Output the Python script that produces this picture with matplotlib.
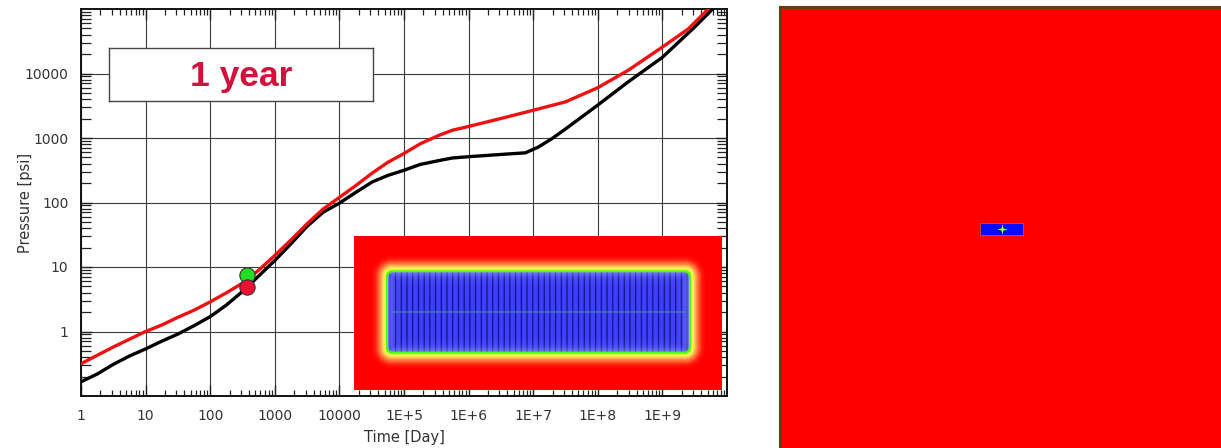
import numpy as np
import matplotlib
matplotlib.use("Agg")
import matplotlib.pyplot as plt
from matplotlib.ticker import LogLocator, FixedLocator, FixedFormatter, NullFormatter
from matplotlib.patches import Rectangle

# ---------------- data ----------------
red_time = [1, 1.78, 3.16, 5.62, 10, 17.8, 31.6, 56.2, 100, 178, 316, 562, 1000, 1780,
            3160, 5620, 1e4, 1.78e4, 3.16e4, 5.62e4, 1e5, 1.78e5, 3.47e5, 5.62e5, 1e6,
            3.72e6, 1e7, 3.16e7, 1e8, 2.95e8, 1e9, 2.51e9, 5.13e9]
red_pressure = [0.316, 0.427, 0.575, 0.759, 1.0, 1.26, 1.66, 2.14, 2.88, 3.98, 5.62,
                8.91, 15.1, 26.3, 46.8, 79.4, 120, 182, 282, 420, 575, 813, 1100, 1320,
                1510, 2090, 2690, 3630, 6030, 11200, 25700, 49000, 100000]

black_time = [1, 1.78, 3.16, 5.62, 10, 17.8, 31.6, 56.2, 100, 178, 316, 562, 1000,
              1780, 3160, 5620, 1e4, 1.82e4, 3.24e4, 5.62e4, 1e5, 1.78e5, 3.47e5, 5.62e5,
              1e6, 3.72e6, 7.59e6, 1.2e7, 1.95e7, 3.16e7, 1e8, 2.95e8, 1e9, 3.16e9, 6.0e9]
black_pressure = [0.166, 0.219, 0.309, 0.417, 0.537, 0.708, 0.912, 1.23, 1.70, 2.57,
                  4.17, 7.24, 12.6, 22.9, 42.7, 70.8, 97.7, 145, 209, 263, 316, 389, 447,
                  490, 513, 562, 589, 724, 977, 1380, 3240, 7410, 17800, 52500, 100000]

marker_time = [365, 365]
marker_pressure = [7.4, 4.9]
marker_colors = ["#22dd22", "#ee1133"]

x_tick_values = [1, 10, 100, 1000, 1e4, 1e5, 1e6, 1e7, 1e8, 1e9]
x_tick_labels = ["1", "10", "100", "1000", "10000", "1E+5", "1E+6", "1E+7", "1E+8", "1E+9"]
y_tick_values = [1, 10, 100, 1000, 10000]
y_tick_labels = ["1", "10", "100", "1000", "10000"]

title_text = "1 year"

# ---------------- figure ----------------
W, H = 1221, 448
fig = plt.figure(figsize=(W / 100, H / 100), dpi=100)
fig.patch.set_facecolor("white")

def fpos(x0, y0, x1, y1):
    return [x0 / W, 1 - y1 / H, (x1 - x0) / W, (y1 - y0) / H]

ax = fig.add_axes(fpos(81, 9, 727, 396))
ax.set_xscale("log")
ax.set_yscale("log")
ax.set_xlim(1, 1e10)
ax.set_ylim(0.1, 1e5)

ax.xaxis.set_major_locator(FixedLocator(x_tick_values))
ax.xaxis.set_major_formatter(FixedFormatter(x_tick_labels))
ax.yaxis.set_major_locator(FixedLocator(y_tick_values))
ax.yaxis.set_major_formatter(FixedFormatter(y_tick_labels))
ax.xaxis.set_minor_locator(LogLocator(base=10, subs=np.arange(2, 10), numticks=200))
ax.yaxis.set_minor_locator(LogLocator(base=10, subs=np.arange(2, 10), numticks=200))
ax.xaxis.set_minor_formatter(NullFormatter())
ax.yaxis.set_minor_formatter(NullFormatter())

ax.grid(True, which="major", color="#3a3a3a", linewidth=0.8)
ax.tick_params(which="both", direction="in", top=True, right=True, colors="#222222",
               labelcolor="#333333", labelsize=10)
ax.tick_params(axis="x", which="major", length=8, width=1, pad=9)
ax.tick_params(axis="x", which="minor", length=4.5, width=0.9)
ax.tick_params(axis="y", which="major", length=8, width=1, pad=9)
ax.tick_params(axis="y", which="minor", length=7, width=0.9)
for s in ax.spines.values():
    s.set_linewidth(1.4)
    s.set_color("#111111")

ax.plot(red_time, red_pressure, color="#ee1111", lw=2.4, zorder=4,
        solid_capstyle="round", solid_joinstyle="round")
ax.plot(black_time, black_pressure, color="black", lw=2.4, zorder=3,
        solid_capstyle="round", solid_joinstyle="round")
for t, p, c in zip(marker_time, marker_pressure, marker_colors):
    ax.plot([t], [p], "o", ms=11, mfc=c, mec="#333333", mew=0.8, zorder=6)

ax.set_xlabel("Time [Day]", fontsize=10.5, color="#333333")
ax.xaxis.set_label_coords(0.5, -0.088)
ax.xaxis.label.set_va("top")
ax.set_ylabel("Pressure [psi]", fontsize=10.5, color="#333333")
ax.yaxis.set_label_coords(-0.074, 0.5)

# title box
box_ax = fig.add_axes(fpos(109, 48, 373, 101))
box_ax.set_xticks([]); box_ax.set_yticks([])
for s in box_ax.spines.values():
    s.set_linewidth(1.0); s.set_color("#444444")
box_ax.text(0.5, 0.46, title_text, ha="center", va="center", fontsize=25.5,
            fontweight="bold", color="#d3103c", family="Liberation Sans",
            transform=box_ax.transAxes)

# ---------------- inset image ----------------
iw, ih = 368, 154
inner_x0, inner_x1, inner_y0, inner_y1 = 33, 336, 36, 117
corner_r = 5.0
yy, xx = np.mgrid[0:ih, 0:iw] + 0.5
cx = (inner_x0 + inner_x1) / 2; cy = (inner_y0 + inner_y1) / 2
hx = (inner_x1 - inner_x0) / 2 - corner_r; hy = (inner_y1 - inner_y0) / 2 - corner_r
qx = np.abs(xx - cx) - hx; qy = np.abs(yy - cy) - hy
outside = np.hypot(np.maximum(qx, 0), np.maximum(qy, 0))
inside_part = np.minimum(np.maximum(qx, qy), 0)
sd = outside + inside_part - corner_r  # signed distance (positive outside)

img = np.zeros((ih, iw, 3))
stops_t = np.array([0.0, 0.1, 0.22, 0.45, 0.75, 1.0])
stops_c = np.array([[0.3, 1.0, 0.0], [0.9, 1.0, 0.15], [1.0, 0.9, 0.4],
                    [1.0, 0.5, 0.25], [1.0, 0.1, 0.05], [1.0, 0.0, 0.0]])
t = np.clip(sd / 16.0, 0, 1)
for k in range(3):
    img[..., k] = np.interp(t, stops_t, stops_c[:, k])
n_stripes = 53
period = (inner_x1 - inner_x0) / n_stripes
phase = ((xx - inner_x0) / period) % 1.0
stripe = np.exp(-((phase - 0.5) / 0.14) ** 2)
din = -sd
edge_light = np.exp(-din / 4.0)
blue = np.stack([0.25 + 0.0 * xx, 0.25 + 0.0 * xx, 1.0 + 0.0 * xx], axis=-1)
dark = np.array([0.06, 0.06, 0.5])
inside_col = blue * (1 - stripe[..., None] * 0.9) + dark * stripe[..., None] * 0.9
light = np.array([0.75, 0.8, 1.0])
inside_col = inside_col * (1 - 0.6 * edge_light[..., None]) + light * 0.6 * edge_light[..., None]
mask_in = sd < 0
img[mask_in] = inside_col[mask_in]
rim = (sd >= -1.2) & (sd < 1.0)
img[rim] = [0.3, 1.0, 0.1]
row = int(round(cy))
img[row, inner_x0 + 4:inner_x1 - 4] = [0.25, 0.6, 0.6]

inset = fig.add_axes(fpos(354, 236, 722, 390))
inset.imshow(img, aspect="auto", interpolation="bilinear")
inset.axis("off")

# ---------------- right panel ----------------
rp = fig.add_axes(fpos(780, 7, 1221, 448))
rp.set_facecolor("#ff0000")
rp.set_xlim(780, 1221)
rp.set_ylim(448, 7)
rp.set_xticks([]); rp.set_yticks([])
rp.spines["left"].set_color("#6b3a10"); rp.spines["left"].set_linewidth(2.2)
rp.spines["top"].set_color("#6b3a10"); rp.spines["top"].set_linewidth(2.2)
rp.spines["right"].set_visible(False); rp.spines["bottom"].set_visible(False)
rp.add_patch(Rectangle((980, 223), 43, 12, facecolor="#0a0aff", edgecolor="#cc8800", lw=0.4))
rp.plot([1002], [229], "o", ms=4, mfc="#22cc22", mec="#111111", mew=0.6)
rp.plot([998, 1006], [229, 229], color="#dddddd", lw=0.6)
rp.plot([1002, 1002], [225, 233], color="#dddddd", lw=0.6)

fig.savefig("out.png", dpi=100)
